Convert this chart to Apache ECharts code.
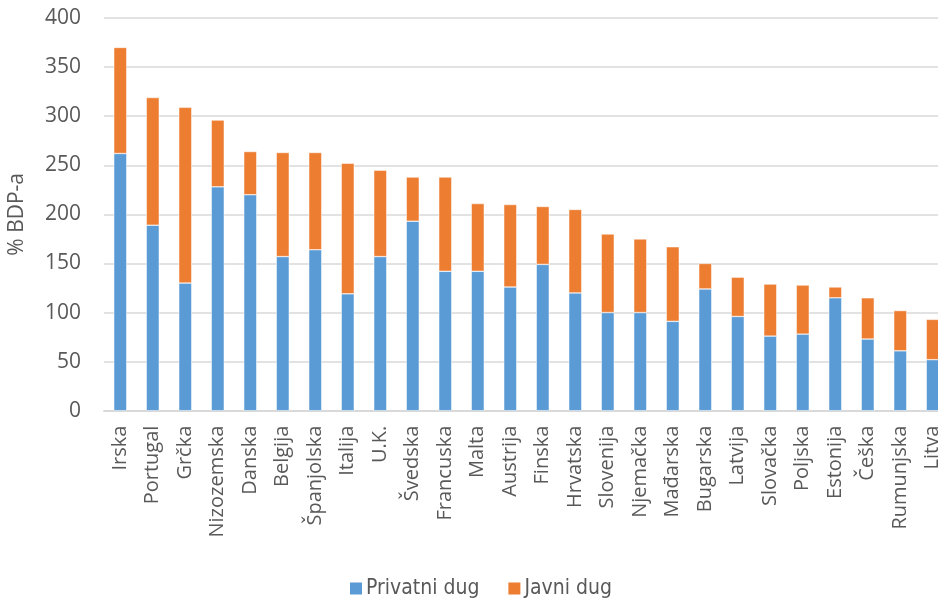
<!DOCTYPE html>
<html><head><meta charset="utf-8">
<script src="https://cdn.jsdelivr.net/npm/echarts@6/dist/echarts.min.js"></script>
<style>html,body{margin:0;padding:0;background:#fff;overflow:hidden}#c{width:938px;height:599px}</style>
</head><body><div id="c"></div>
<script>
const categories = ["Irska","Portugal","Grčka","Nizozemska","Danska","Belgija","Španjolska","Italija","U.K.","Švedska","Francuska","Malta","Austrija","Finska","Hrvatska","Slovenija","Njemačka","Mađarska","Bugarska","Latvija","Slovačka","Poljska","Estonija","Češka","Rumunjska","Litva"];
const privatniDug = [262,189,130,228,220,157,164,119,157,193,142,142,126,149,120,100,100,91,124,96,76,78,115,73,61,52];
const ukupno = [370,319,309,296,264,263,263,252,245,238,238,211,210,208,205,180,175,167,150,136,129,128,126,115,102,93];
const javniDug = ukupno.map((t,i)=>t-privatniDug[i]);
const yTicks = {min:0,max:400,interval:50};

const chart = echarts.init(document.getElementById('c'));
chart.setOption({
  animation:false,
  grid:{left:104,width:845,top:18,height:392.7,containLabel:false,outerBoundsMode:'none'},
  legend:{
    top:573,left:343,itemWidth:14,itemHeight:14,itemGap:27,
    icon:'rect',
    textStyle:{fontFamily:"'DejaVu Sans Condensed','Noto Sans',sans-serif",fontSize:21,color:'#595959',padding:[0,0,0,-2]},
    data:['Privatni dug','Javni dug']
  },
  xAxis:{
    type:'category',data:categories,
    axisLine:{lineStyle:{color:'#d9d9d9',width:2}},
    axisTick:{show:false},
    axisLabel:{rotate:90,interval:0,fontFamily:'Open Sans',fontSize:20,color:'#595959',margin:15}
  },
  yAxis:{
    type:'value',min:yTicks.min,max:yTicks.max,interval:yTicks.interval,
    name:'% BDP-a',nameLocation:'middle',nameGap:76,
    nameTextStyle:{fontFamily:'Open Sans',fontSize:21,color:'#595959'},
    axisLine:{show:false},axisTick:{show:false},
    axisLabel:{fontFamily:'Open Sans',fontSize:21,color:'#595959',margin:23},
    splitLine:{lineStyle:{color:'#d9d9d9',width:1.5}}
  },
  series:[
    {name:'Privatni dug',type:'bar',stack:'d',data:privatniDug,barWidth:13,
     itemStyle:{color:'#5B9BD5',borderColor:'#ffffff',borderWidth:0.5}},
    {name:'Javni dug',type:'bar',stack:'d',data:javniDug,barWidth:13,
     itemStyle:{color:'#ED7D31',borderColor:'#ffffff',borderWidth:0.5}}
  ]
});
</script></body></html>
